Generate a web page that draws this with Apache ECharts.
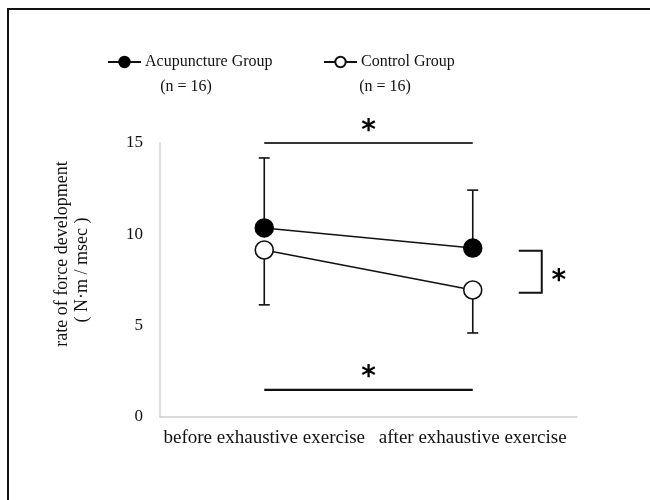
<!DOCTYPE html>
<html>
<head>
<meta charset="utf-8">
<script src="https://cdn.jsdelivr.net/npm/echarts@6/dist/echarts.min.js"></script>
<style>html,body{margin:0;padding:0;background:#fff;}#c{width:650px;height:500px;}</style>
</head>
<body>
<div id="c"></div>
<script>
const categories = ['before exhaustive exercise', 'after exhaustive exercise'];
const acuMean = [10.35, 9.25];
const acuSD = [3.83, 3.17];
const ctrlMean = [9.14, 6.95];
const ctrlSD = [3.0, 2.35];
const yMin = 0, yMax = 15, yInterval = 5;
const sigTopValue = 15;
const sigBottomValue = 1.48;
const bracketValues = [9.1, 6.8];
const seriesNames = ['Acupuncture Group', 'Control Group'];
const groupN = ['(n = 16)', '(n = 16)'];
const yNameLines = ['rate of force development', '( N·m / msec )'];

const serif = '"Liberation Serif", "Times New Roman", serif';
const chart = echarts.init(document.getElementById('c'), null, {renderer: 'canvas'});

function errData(mean, sd, dir) {
  return mean.map((m, i) => [i, m, m + dir * sd[i]]);
}
function errRender(params, api) {
  const p = api.coord([api.value(0), api.value(1)]);
  const e = api.coord([api.value(0), api.value(2)]);
  const st = {stroke: '#111', lineWidth: 1.6};
  return {type: 'group', children: [
    {type: 'line', shape: {x1: p[0], y1: p[1], x2: e[0], y2: e[1]}, style: st},
    {type: 'line', shape: {x1: e[0] - 5.5, y1: e[1], x2: e[0] + 5.5, y2: e[1]}, style: st}
  ]};
}

const option = {
  animation: false,
  backgroundColor: '#fff',
  grid: {left: 160, right: 73, top: 143, bottom: 83},
  legend: [
    {data: [seriesNames[0]], left: 107, top: 54, padding: 0, itemWidth: 33, itemHeight: 13, itemGap: 0,
     textStyle: {fontFamily: serif, fontSize: 16, color: '#111', padding: [0,0,0,-1]}},
    {data: [seriesNames[1]], left: 323, top: 54, padding: 0, itemWidth: 33, itemHeight: 13, itemGap: 0,
     textStyle: {fontFamily: serif, fontSize: 16, color: '#111', padding: [0,0,0,-1]}}
  ],
  xAxis: {
    type: 'category', data: categories, boundaryGap: true,
    axisLine: {lineStyle: {color: '#d0d0d0', width: 1.5}},
    axisTick: {show: false},
    axisLabel: {fontFamily: serif, fontSize: 19, color: '#111', margin: 12, interval: 0}
  },
  yAxis: {
    type: 'value', min: yMin, max: yMax, interval: yInterval,
    axisLine: {show: true, lineStyle: {color: '#d0d0d0', width: 1.5}},
    axisTick: {show: false},
    splitLine: {show: false},
    axisLabel: {fontFamily: serif, fontSize: 17, color: '#111', margin: 17}
  },
  series: [
    {type: 'custom', name: 'errAcu', renderItem: errRender, data: errData(acuMean, acuSD, 1),
     encode: {x: 0, y: [1, 2]}, z: 1, silent: true},
    {type: 'custom', name: 'errCtrl', renderItem: errRender, data: errData(ctrlMean, ctrlSD, -1),
     encode: {x: 0, y: [1, 2]}, z: 1, silent: true},
    {type: 'line', name: seriesNames[0], data: acuMean, symbol: 'circle', symbolSize: 18,
     lineStyle: {color: '#111', width: 1.6}, itemStyle: {color: '#000', borderColor: '#000', borderWidth: 1.5}, z: 3},
    {type: 'line', name: seriesNames[1], data: ctrlMean, symbol: 'circle', symbolSize: 18,
     lineStyle: {color: '#111', width: 1.6}, itemStyle: {color: '#fff', borderColor: '#111', borderWidth: 1.6}, z: 3},
    {type: 'line', name: 'sigTop', data: [[0, sigTopValue], [1, sigTopValue]], symbol: 'none',
     lineStyle: {color: '#333', width: 2}, z: 2, silent: true},
    {type: 'line', name: 'sigBottom', data: [[0, sigBottomValue], [1, sigBottomValue]], symbol: 'none',
     lineStyle: {color: '#111', width: 2.2}, z: 2, silent: true}
  ]
};
chart.setOption(option);

const px = (i, v) => chart.convertToPixel({xAxisIndex: 0, yAxisIndex: 0}, [i, v]);
const c0 = px(0, sigTopValue), c1 = px(1, sigTopValue);
const midX = (c0[0] + c1[0]) / 2;
const bTop = px(1, bracketValues[0]), bBot = px(1, bracketValues[1]);
const starStyle = {text: '*', fontFamily: '"DejaVu Sans", sans-serif', fontWeight: 'bold', fontSize: 28, fill: '#000', align: 'center', verticalAlign: 'middle'};

chart.setOption({
  graphic: [
    {type: 'rect', shape: {x: 8, y: 9, width: 800, height: 700}, style: {fill: 'none', stroke: '#111', lineWidth: 2}, silent: true},
    {type: 'text', x: 186, y: 87, style: {text: groupN[0], font: '16px ' + serif, fill: '#111', align: 'center', verticalAlign: 'middle'}},
    {type: 'text', x: 385, y: 87, style: {text: groupN[1], font: '16px ' + serif, fill: '#111', align: 'center', verticalAlign: 'middle'}},
    {type: 'text', x: 62, y: 254, rotation: Math.PI / 2, style: {text: yNameLines[0], font: '18px ' + serif, fill: '#111', align: 'center', verticalAlign: 'middle'}},
    {type: 'text', x: 82, y: 270, rotation: Math.PI / 2, style: {text: yNameLines[1], font: '18px ' + serif, fill: '#111', align: 'center', verticalAlign: 'middle'}},
    {type: 'text', x: midX, y: c0[1] - 11, style: Object.assign({}, starStyle)},
    {type: 'text', x: midX, y: px(0, sigBottomValue)[1] - 12, style: Object.assign({}, starStyle)},
    {type: 'polyline', shape: {points: [[bTop[0] + 46, bTop[1]], [bTop[0] + 69, bTop[1]], [bBot[0] + 69, bBot[1]], [bBot[0] + 46, bBot[1]]]},
     style: {stroke: '#111', lineWidth: 2, fill: 'none'}},
    {type: 'text', x: bTop[0] + 86, y: (bTop[1] + bBot[1]) / 2 + 10, style: Object.assign({}, starStyle)}
  ]
});
</script>
</body>
</html>
